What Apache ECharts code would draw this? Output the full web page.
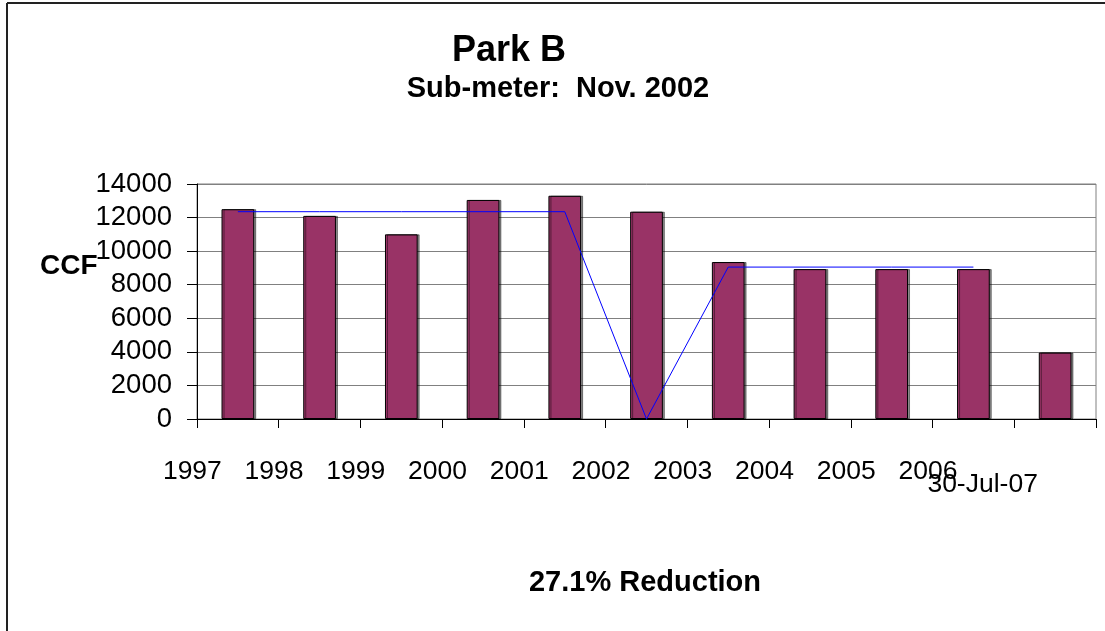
<!DOCTYPE html>
<html>
<head>
<meta charset="utf-8">
<script src="https://cdn.jsdelivr.net/npm/echarts@6/dist/echarts.min.js"></script>
<style>html,body{margin:0;padding:0;background:#fff;}#c{width:1105px;height:631px;}</style>
</head>
<body>
<div id="c"></div>
<script>
const categories = ['1997','1998','1999','2000','2001','2002','2003','2004','2005','2006','30-Jul-07'];
const ccfValues = [12500, 12100, 11000, 13050, 13300, 12350, 9350, 8930, 8930, 8930, 3960];
const averageLine = [12350, 12350, 12350, 12350, 12350, 0, 9050, 9050, 9050, 9050, null];
const yTicks = { min: 0, max: 14000, interval: 2000 };

const chart = echarts.init(document.getElementById('c'), null, { renderer: 'canvas' });
const font = 'Liberation Sans, Arial, sans-serif';
chart.setOption({
  backgroundColor: '#fff',
  animation: false,
  title: [
    { text: 'Park B', left: 509, top: 33, textAlign: 'center', padding: 0,
      textStyle: { fontFamily: font, fontSize: 36, fontWeight: 'bold', color: '#000', lineHeight: 36 } },
    { text: 'Sub-meter:  Nov. 2002', left: 558, top: 74, textAlign: 'center', padding: 0,
      textStyle: { fontFamily: font, fontSize: 29, fontWeight: 'bold', color: '#000', lineHeight: 29 } },
    { text: 'CCF', left: 40, top: 252, padding: 0,
      textStyle: { fontFamily: font, fontSize: 28, fontWeight: 'bold', color: '#000', lineHeight: 28 } },
    { text: '27.1% Reduction', left: 645, top: 568, textAlign: 'center', padding: 0,
      textStyle: { fontFamily: font, fontSize: 29, fontWeight: 'bold', color: '#000', lineHeight: 29 } }
  ],
  graphic: [
    { type: 'line', shape: { x1: 7, y1: 3, x2: 1105, y2: 3 }, style: { stroke: '#222', lineWidth: 2 } },
    { type: 'line', shape: { x1: 7, y1: 3, x2: 7, y2: 631 }, style: { stroke: '#222', lineWidth: 2 } }
  ],
  grid: { left: 197, right: 9, top: 184, bottom: 212, containLabel: false, outerBoundsMode: 'none',
    show: true, borderColor: '#808080', borderWidth: 1, backgroundColor: 'transparent' },
  xAxis: {
    type: 'category',
    data: categories,
    boundaryGap: true,
    axisLine: { lineStyle: { color: '#000', width: 1 } },
    axisTick: { show: true, length: 9, lineStyle: { color: '#000' } },
    axisLabel: {
      interval: 0,
      margin: 38,
      hideOverlap: false,
      fontFamily: font, fontSize: 26.5, color: '#000',
      formatter: function (v, i) { return i === 10 ? '{b|' + v + '}' : '{a|' + v + '}'; },
      rich: {
        a: { fontFamily: font, fontSize: 26.5, color: '#000', lineHeight: 30, padding: [0, 91, 0, 0] },
        b: { fontFamily: font, fontSize: 26.5, color: '#000', lineHeight: 30, padding: [26, 145, 0, 0] }
      }
    },
    splitLine: { show: false }
  },
  yAxis: {
    type: 'value',
    min: yTicks.min, max: yTicks.max, interval: yTicks.interval,
    axisLine: { show: true, lineStyle: { color: '#000', width: 1 } },
    axisTick: { show: true, length: 10, lineStyle: { color: '#000' } },
    axisLabel: { margin: 25, fontFamily: font, fontSize: 27.5, color: '#000',
      formatter: function (v) { return String(v); } },
    splitLine: { show: true, lineStyle: { color: '#808080', width: 1 } }
  },
  series: [
    {
      type: 'bar',
      data: ccfValues,
      barWidth: '40%',
      itemStyle: { color: '#993366', borderColor: '#000', borderWidth: 1,
        shadowColor: 'rgba(0,0,0,0.45)', shadowOffsetX: 2, shadowOffsetY: 0, shadowBlur: 0 },
      z: 2
    },
    {
      type: 'line',
      data: averageLine,
      showSymbol: false,
      symbol: 'none',
      connectNulls: false,
      lineStyle: { color: '#0000ff', width: 1 },
      z: 3
    }
  ]
});
</script>
</body>
</html>
